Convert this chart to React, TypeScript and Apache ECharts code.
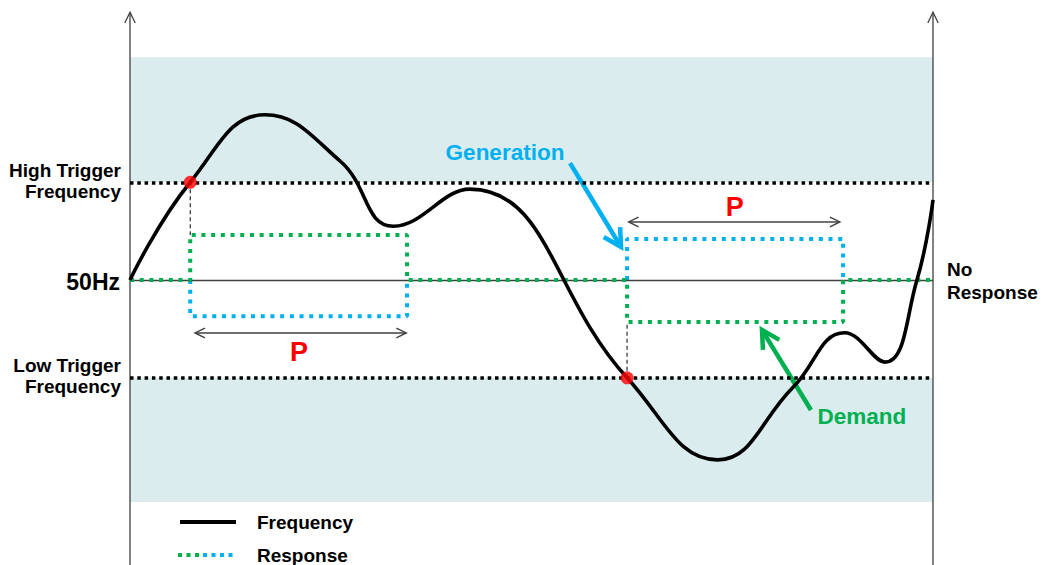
import React, { useEffect, useRef } from "react";
import * as echarts from "echarts";

const FONT = '"Liberation Sans", Arial, Helvetica, sans-serif';

// Axis ranges: time (0..100) and frequency (Hz)
const X_MIN = 0;
const X_MAX = 100;
const Y_MIN = 49.4169;
const Y_MAX = 50.5729;
const AXIS_TOP = 50.548;

const NOMINAL = 50;
const HIGH_TRIGGER = 50.2;
const LOW_TRIGGER = 49.8;
const BAND_TOP = 50.456;
const BAND_BOTTOM = 49.546;

// Frequency trace (time, Hz)
const frequency: [number, number][] = [
  [0, 50.0], [7.5, 50.2], [16.8, 50.338], [26.2, 50.243], [32.8, 50.11],
  [42.3, 50.186], [61.9, 49.8], [73.2, 49.632], [82.6, 49.781],
  [89.0, 49.892], [94.0, 49.832], [98.0, 50.0], [100, 50.164],
];

// Trigger crossings
const triggerPoints: [number, number][] = [
  [7.5, 50.2],
  [61.9, 49.8],
];

// Response (demand side, green) and generation side (blue)
const responseDemand: ([number, number] | string)[] = [
  [0, 50], [7.5, 50], [7.5, 50.092], [34.5, 50.092], [34.5, 50],
  [61.9, 50], [61.9, 49.914], [88.8, 49.914], [88.8, 50], [100, 50],
];
const responseGeneration: ([number, number] | string)[] = [
  [7.5, 50], [7.5, 49.926], [34.5, 49.926], [34.5, 50], "-",
  [61.9, 50], [61.9, 50.084], [88.8, 50.084], [88.8, 50],
];

// Response period markers (start, end, y)
const periods: [number, number, number][] = [
  [8.1, 34.4, 49.8916],
  [62.1, 88.4, 50.1187],
];
const periodLabels: [number, number][] = [
  [21.05, 49.853],
  [75.3, 50.149],
];
const triggerDrops: [number, number, number][] = [
  [7.5, 50.2, 50.092],
  [61.9, 49.8, 49.914],
];

// Callouts
const generationArrow: [number, number][] = [[54.8, 50.239], [61.15, 50.0675]];
const generationLabel: [number, number] = [46.7, 50.26];
const demandArrow: [number, number][] = [[84.8, 49.734], [78.7, 49.898]];
const demandLabel: [number, number] = [91.15, 49.72];

const BLUE = "#00B0F0";
const GREEN = "#00B050";
const AXIS_GRAY = "#404040";

export default function App() {
  const ref = useRef<HTMLDivElement>(null);

  useEffect(() => {
    if (!ref.current) return;
    const chart = echarts.init(ref.current, undefined, { renderer: "svg" });

    const renderAnnotations = (params: any, api: any) => {
      const c = (p: number[]) => api.coord(p);
      const children: any[] = [];
      const seg = (a: number[], b: number[], style: any) =>
        children.push({ type: "line", shape: { x1: a[0], y1: a[1], x2: b[0], y2: b[1] }, style });
      const chevron = (tip: number[], from: number[], len: number, ang: number, style: any) => {
        const dx = from[0] - tip[0];
        const dy = from[1] - tip[1];
        const base = Math.atan2(dy, dx);
        const a1 = base + ang;
        const a2 = base - ang;
        children.push({
          type: "polyline",
          shape: {
            points: [
              [tip[0] + len * Math.cos(a1), tip[1] + len * Math.sin(a1)],
              tip,
              [tip[0] + len * Math.cos(a2), tip[1] + len * Math.sin(a2)],
            ],
          },
          style: { ...style, fill: "none" },
        });
      };
      const text = (p: number[], t: string, style: any) =>
        children.push({ type: "text", x: p[0], y: p[1], style: { text: t, ...style } });

      // Axes
      const axisStyle = { stroke: AXIS_GRAY, lineWidth: 1.3 };
      [X_MIN, X_MAX].forEach((x) => {
        const b = c([x, Y_MIN]);
        const t = c([x, AXIS_TOP]);
        seg(b, t, axisStyle);
        chevron(t, b, 12, 0.45, axisStyle);
      });

      // Trigger drop lines
      triggerDrops.forEach(([x, y1, y2]) => {
        seg(c([x, y1]), c([x, y2]), { stroke: "#000", lineWidth: 1, lineDash: [4, 3] });
      });

      // Period double arrows
      const pStyle = { stroke: AXIS_GRAY, lineWidth: 1.4 };
      periods.forEach(([x1, x2, y]) => {
        const a = c([x1, y]);
        const b = c([x2, y]);
        seg(a, b, pStyle);
        chevron(a, b, 11, 0.45, pStyle);
        chevron(b, a, 11, 0.45, pStyle);
      });
      periodLabels.forEach((p) => {
        text(c(p), "P", {
          fill: "#FF0000", fontFamily: FONT, fontWeight: "bold", fontSize: 27,
          align: "center", verticalAlign: "middle",
        });
      });

      // Callout arrows
      const gA = c(generationArrow[0]);
      const gB = c(generationArrow[1]);
      const gStyle = { stroke: BLUE, lineWidth: 4.5 };
      seg(gA, gB, gStyle);
      chevron(gB, gA, 20, 0.5, gStyle);
      text(c(generationLabel), "Generation", {
        fill: BLUE, fontFamily: FONT, fontWeight: "bold", fontSize: 22.5,
        align: "center", verticalAlign: "middle",
      });
      const dA = c(demandArrow[0]);
      const dB = c(demandArrow[1]);
      const dStyle = { stroke: GREEN, lineWidth: 4.5 };
      seg(dA, dB, dStyle);
      chevron(dB, dA, 20, 0.5, dStyle);
      text(c(demandLabel), "Demand", {
        fill: GREEN, fontFamily: FONT, fontWeight: "bold", fontSize: 22.5,
        align: "center", verticalAlign: "middle",
      });

      // Axis level labels
      const lbl = { fill: "#000", fontFamily: FONT, fontWeight: "bold", fontSize: 19, lineHeight: 21 };
      const hp = c([X_MIN, HIGH_TRIGGER]);
      text([hp[0] - 9, hp[1] - 1], "High Trigger\nFrequency", { ...lbl, align: "right", verticalAlign: "middle" });
      const lp = c([X_MIN, LOW_TRIGGER]);
      text([lp[0] - 9, lp[1] - 2], "Low Trigger\nFrequency", { ...lbl, align: "right", verticalAlign: "middle" });
      const np = c([X_MIN, NOMINAL]);
      text([np[0] - 10, np[1] + 2], "50Hz", { ...lbl, fontSize: 23, align: "right", verticalAlign: "middle" });
      const rp = c([X_MAX, NOMINAL]);
      text([rp[0] + 14, rp[1] + 1], "No\nResponse", { ...lbl, lineHeight: 23, align: "left", verticalAlign: "middle" });

      return { type: "group", children };
    };

    const dotted = (color: string) => ({ color, width: 4, type: [4, 5.7] as any });

    chart.setOption({
      animation: false,
      backgroundColor: "#ffffff",
      grid: { left: 130, right: 113, top: 0, bottom: 0, containLabel: false },
      xAxis: {
        type: "value", min: X_MIN, max: X_MAX,
        axisLine: { show: false }, axisTick: { show: false }, axisLabel: { show: false }, splitLine: { show: false },
      },
      yAxis: {
        type: "value", min: Y_MIN, max: Y_MAX,
        axisLine: { show: false }, axisTick: { show: false }, axisLabel: { show: false }, splitLine: { show: false },
      },
      series: [
        {
          name: "background",
          type: "line",
          data: [[X_MIN, NOMINAL]],
          symbol: "none",
          z: 1,
          silent: true,
          lineStyle: { width: 0 },
          markArea: {
            silent: true,
            itemStyle: { color: "#DAECEE" },
            data: [
              [{ xAxis: X_MIN, yAxis: HIGH_TRIGGER }, { xAxis: X_MAX, yAxis: BAND_TOP }],
              [{ xAxis: X_MIN, yAxis: BAND_BOTTOM }, { xAxis: X_MAX, yAxis: LOW_TRIGGER }],
            ],
          },
          markLine: {
            silent: true,
            symbol: "none",
            label: { show: false },
            data: [
              { yAxis: HIGH_TRIGGER, lineStyle: { color: "#000", width: 3.5, type: [3.5, 3.8] } },
              { yAxis: LOW_TRIGGER, lineStyle: { color: "#000", width: 3.5, type: [3.5, 3.8] } },
              { yAxis: NOMINAL, lineStyle: { color: AXIS_GRAY, width: 1.3, type: "solid" } },
            ],
          },
        },
        {
          name: "annotations",
          type: "custom",
          renderItem: renderAnnotations,
          data: [[0, 0]],
          clip: false,
          silent: true,
          z: 3,
        },
        {
          name: "Response (generation)",
          type: "line",
          data: responseGeneration,
          symbol: "none",
          connectNulls: false,
          lineStyle: dotted(BLUE),
          z: 4,
        },
        {
          name: "Response",
          type: "line",
          data: responseDemand,
          symbol: "none",
          lineStyle: dotted(GREEN),
          z: 5,
        },
        {
          name: "Frequency",
          type: "line",
          data: frequency,
          symbol: "none",
          smooth: 0.45,
          lineStyle: { color: "#000", width: 3.6 },
          z: 6,
        },
        {
          name: "Trigger",
          type: "scatter",
          data: triggerPoints,
          symbol: "circle",
          symbolSize: 13,
          itemStyle: { color: "#FF0000" },
          z: 7,
        },
      ],
      graphic: [
        { type: "line", shape: { x1: 180, y1: 522, x2: 236, y2: 522 }, style: { stroke: "#000", lineWidth: 4 } },
        {
          type: "text", x: 257, y: 522,
          style: { text: "Frequency", fill: "#000", fontFamily: FONT, fontWeight: "bold", fontSize: 19, align: "left", verticalAlign: "middle" },
        },
        { type: "line", shape: { x1: 178, y1: 555, x2: 203, y2: 555 }, style: { stroke: GREEN, lineWidth: 4, lineDash: [4, 4.5] } },
        { type: "line", shape: { x1: 203, y1: 555, x2: 237, y2: 555 }, style: { stroke: BLUE, lineWidth: 4, lineDash: [4, 4.5] } },
        {
          type: "text", x: 257, y: 555,
          style: { text: "Response", fill: "#000", fontFamily: FONT, fontWeight: "bold", fontSize: 19, align: "left", verticalAlign: "middle" },
        },
      ],
    });

    return () => chart.dispose();
  }, []);

  return (
    <div
      ref={ref}
      style={{ position: "fixed", left: 0, top: 0, width: 1046, height: 565, background: "#fff" }}
    />
  );
}
